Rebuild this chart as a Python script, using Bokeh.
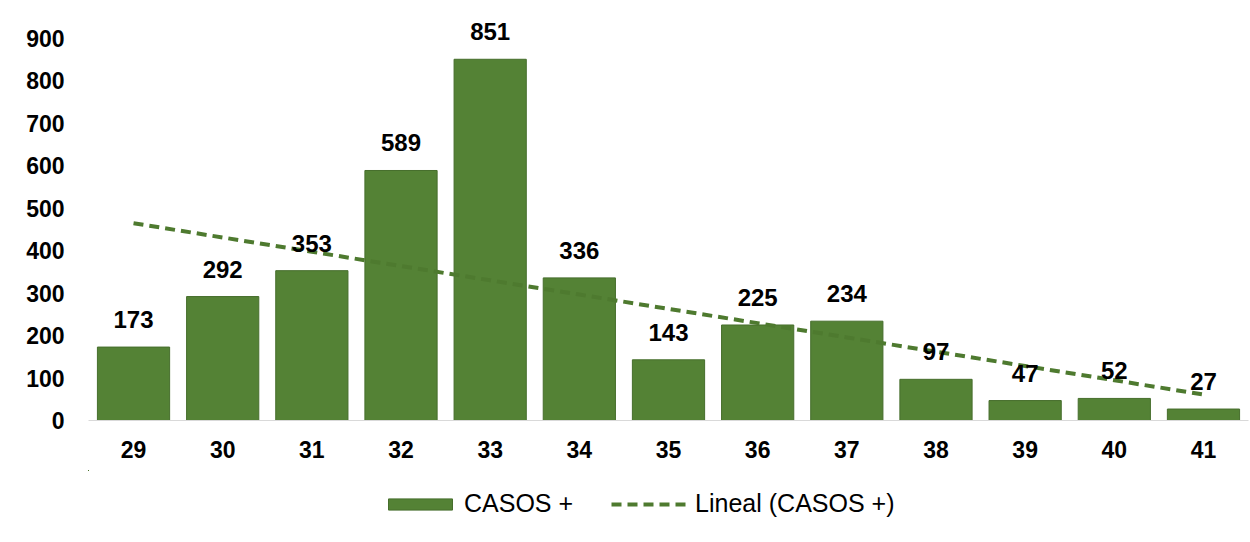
import numpy as np
from bokeh.plotting import figure
from bokeh.layouts import column
from bokeh.models import ColumnDataSource, Range1d, FixedTicker, Legend, LegendItem
from bokeh.embed import file_html
from bokeh.resources import INLINE

weeks = [29, 30, 31, 32, 33, 34, 35, 36, 37, 38, 39, 40, 41]
casos = [173, 292, 353, 589, 851, 336, 143, 225, 234, 97, 47, 52, 27]
y_ticks = [0, 100, 200, 300, 400, 500, 600, 700, 800, 900]

FONT = "Liberation Sans"
BAR = "#548235"
BAR_LINE = "#466e2c"
TREND = "#4E7A2F"

x = np.array(weeks, dtype=float)
y = np.array(casos, dtype=float)
slope, intercept = np.polyfit(x, y, 1)
trend = list(slope * x + intercept)

src = ColumnDataSource(dict(x=weeks, y=casos, lab=[str(v) for v in casos]))

p = figure(width=1250, height=470, output_backend="svg", toolbar_location=None,
           x_range=Range1d(28.495, 41.505), y_range=Range1d(0, 940),
           min_border_left=88, min_border_right=2, min_border_top=21, min_border_bottom=50)
p.outline_line_color = None
p.xgrid.visible = False
p.ygrid.visible = False

p.vbar(x="x", top="y", width=0.81, source=src, fill_color=BAR,
       line_color=BAR_LINE, line_width=1)
p.line(x=weeks, y=trend, line_color=TREND, line_width=4, line_dash="10 6")
p.text(x="x", y="y", text="lab", source=src, text_align="center", text_baseline="bottom",
       y_offset=-19, text_font_size="24px", text_font_style="bold", text_color="#000000",
       text_font={"value": FONT})

p.yaxis.ticker = FixedTicker(ticks=y_ticks)
p.yaxis.axis_line_color = None
p.yaxis.major_tick_line_color = None
p.yaxis.minor_tick_line_color = None
p.yaxis.major_label_standoff = 18
p.yaxis.major_label_text_font = FONT
p.yaxis.major_label_text_font_size = "23px"
p.yaxis.major_label_text_font_style = "bold"
p.yaxis.major_label_text_color = "#000000"

p.xaxis.ticker = FixedTicker(ticks=weeks)
p.xaxis.axis_line_color = "#d9d9d9"
p.xaxis.axis_line_width = 1
p.xaxis.major_tick_line_color = None
p.xaxis.minor_tick_line_color = None
p.xaxis.major_label_standoff = 14
p.xaxis.major_label_text_font = FONT
p.xaxis.major_label_text_font_size = "23px"
p.xaxis.major_label_text_font_style = "bold"
p.xaxis.major_label_text_color = "#000000"

# legend strip below the chart (its renderers lie outside its visible ranges)
p2 = figure(width=1250, height=72, output_backend="svg", toolbar_location=None,
            x_range=Range1d(1000, 1001), y_range=Range1d(-3000, -2000),
            x_axis_location=None, y_axis_location=None,
            min_border_left=0, min_border_right=0, min_border_top=0, min_border_bottom=0)
p2.outline_line_color = None
p2.grid.visible = False
lb = p2.vbar(x="x", top="y", width=0.81, source=src, fill_color=BAR,
             line_color=BAR_LINE, line_width=1)
ll = p2.line(x=weeks, y=trend, line_color=TREND, line_width=4, line_dash="10 6")

legend = Legend(items=[LegendItem(label="CASOS +", renderers=[lb]),
                       LegendItem(label="Lineal (CASOS +)", renderers=[ll])],
                orientation="horizontal", location=(292, 24),
                glyph_width=80, glyph_height=14, spacing=38, label_standoff=4,
                label_text_font=FONT, label_text_font_size="25px", label_text_color="#000000",
                border_line_color=None, background_fill_alpha=0, margin=0, padding=4)
p2.add_layout(legend, "center")

open("out.html", "w").write(file_html(column(p, p2, spacing=0), INLINE))
